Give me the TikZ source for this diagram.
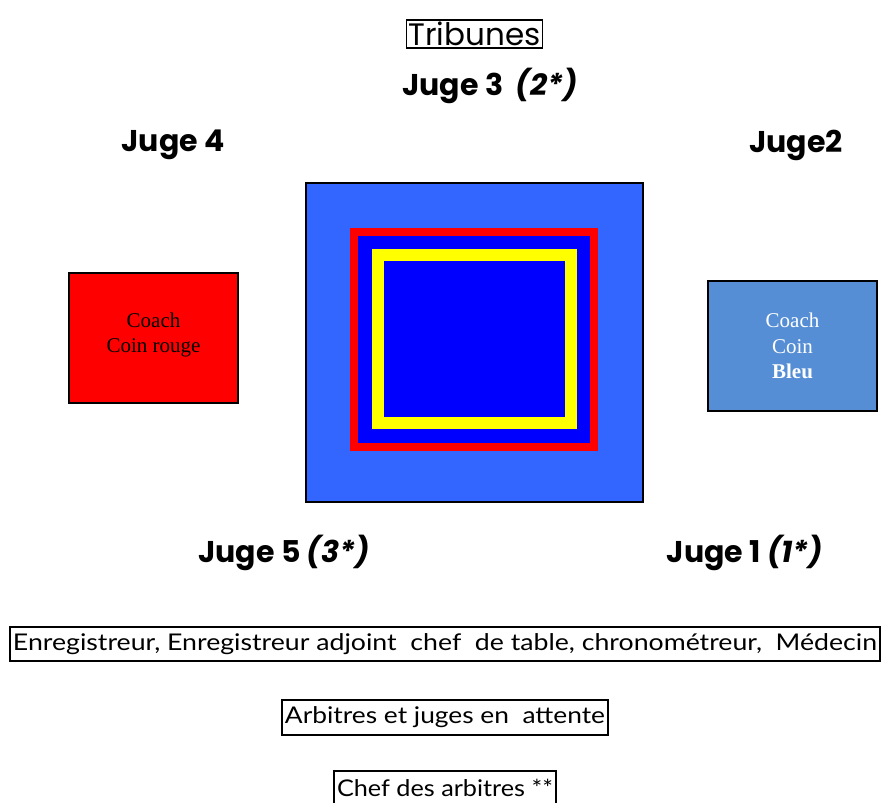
\documentclass[tikz,border=0pt]{standalone}
\usepackage{fontspec}
\setmainfont{Poppins}
\newfontfamily\boxfont{Lato}
\newfontfamily\coachfont{Liberation Serif}
\definecolor{courtout}{HTML}{3366FF}
\definecolor{courtin}{HTML}{0000FF}
\definecolor{matred}{HTML}{FF0000}
\definecolor{matyellow}{HTML}{FFFF00}
\definecolor{coachblue}{HTML}{558ED5}
\begin{document}
\begin{tikzpicture}[x=1pt,y=-1pt,
  juge/.style={font=\fontsize{30}{33}\selectfont\bfseries, inner sep=0pt},
  framebox/.style={draw=black, line width=1.2pt, inner sep=1.5pt},
  coachbox/.style={draw=black, line width=1.2pt, font=\coachfont\fontsize{21}{25.5}\selectfont, align=center},
]
\useasboundingbox (0,0) rectangle (881,803);
% title
\node[framebox, inner xsep=2pt, inner ysep=2pt] (trib) at (474.5,34) {\fontsize{31}{34}\selectfont Tribunes};
% judges
\node[juge] (j3) at (490,86) {Juge 3\ \ \textit{(2*)}};
\node[juge] (j4) at (173,145) {Juge 4};
\node[juge] (j2) at (796,145) {Juge2};
\node[juge] (j5) at (284,553) {Juge 5 \textit{(3*)}};
\node[juge] (j1) at (745,553) {Juge 1 \textit{(1*)}};
% court
\filldraw[fill=courtout, draw=black, line width=1.2pt] (306,183) rectangle (643,502);
\filldraw[fill=courtin, draw=matred, line width=8pt] (354,232) rectangle (594,447);
\draw[draw=matyellow, line width=12pt] (378,255) rectangle (571,423);
% coaches
\node[coachbox, fill=matred, minimum width=169pt, minimum height=130pt] (cr) at (153.5,338) {};
\node[coachbox, fill=none, draw=none, inner sep=0pt] (crt) at (153.5,335) {Coach\\Coin rouge};
\node[coachbox, fill=coachblue, text=white, minimum width=169pt, minimum height=130pt] (cb) at (792.5,346) {Coach\\Coin\\\textbf{Bleu}};
% bottom boxes
\node[framebox, inner sep=0pt, minimum height=34pt, minimum width=870pt] (tab) at (445,644) {\boxfont\resizebox{864pt}{\height}{\fontsize{23}{26}\selectfont Enregistreur, Enregistreur adjoint\ \ chef\ \ de table, chronométreur,\ \ Médecin}};
\node[framebox, inner sep=0pt, minimum height=35pt, minimum width=326pt] (att) at (445,717.5) {\boxfont\resizebox{320pt}{\height}{\fontsize{23}{26}\selectfont Arbitres et juges en\ \ attente}};
\node[framebox, inner sep=0pt, minimum height=33pt, minimum width=222pt] (chef) at (445,787.5) {\boxfont\resizebox{216pt}{\height}{\fontsize{23}{26}\selectfont Chef des arbitres **}};
\end{tikzpicture}
\end{document}
